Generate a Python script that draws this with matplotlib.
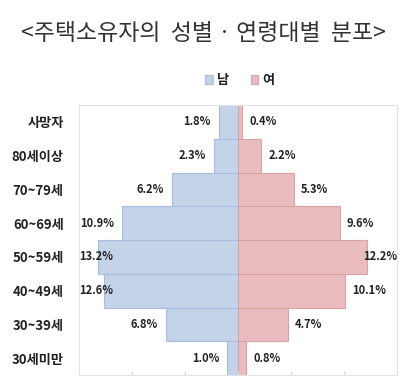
import matplotlib
matplotlib.use("Agg")
import matplotlib.pyplot as plt
import numpy as np

plt.rcParams['font.family'] = ['Noto Sans CJK KR', 'DejaVu Sans']

categories = ["사망자", "80세이상", "70~79세", "60~69세", "50~59세", "40~49세", "30~39세", "30세미만"]
male = [1.8, 2.3, 6.2, 10.9, 13.2, 12.6, 6.8, 1.0]
female = [0.4, 2.2, 5.3, 9.6, 12.2, 10.1, 4.7, 0.8]
title = "<주택소유자의  성별 · 연령대별  분포>"
legend_labels = ["남", "여"]

fig = plt.figure(figsize=(4.10, 3.89), dpi=100)
ax = fig.add_axes([79/410, 1-375/389, (397-79)/410, (375-105)/389])

y = np.arange(len(categories))
mc, me = "#c5d3e9", "#a7bcdf"
fc, fe = "#e9bdbf", "#dba2a5"
ax.barh(y, [-v for v in male], height=1.0, color=mc, edgecolor=me, linewidth=0.8, label=legend_labels[0])
ax.barh(y, female, height=1.0, color=fc, edgecolor=fe, linewidth=0.8, label=legend_labels[1])

ax.set_xlim(-15, 15)
ax.set_ylim(len(categories)-0.5, -0.5)
ax.set_xticks([-15, -10, -5, 0, 5, 10, 15])
ax.set_xticklabels([])
ax.set_yticks(y)
ax.set_yticklabels(categories, fontsize=9.5, fontweight='bold', color='#222222')
ax.tick_params(axis='y', length=0, pad=11)
ax.tick_params(axis='x', direction='in', length=3, color='#d9d9d9')
for s in ax.spines.values():
    s.set_color('#e3e3e3')
    s.set_linewidth(0.8)

for i, v in enumerate(male):
    ax.text(-min(v + 0.75, 11.8), i, f"{v:.1f}%", ha='right', va='center',
            fontsize=8, fontweight='bold', color='#222222')
for i, v in enumerate(female):
    ax.text(min(v + 0.65, 11.8), i, f"{v:.1f}%", ha='left', va='center',
            fontsize=8, fontweight='bold', color='#222222')

fig.text(203/410, 1-33/389, title, ha='center', va='center', fontsize=16.5, color='#333333')

leg = fig.legend(loc='center', bbox_to_anchor=(240/410, 1-80/389), ncol=2, frameon=False,
                 handlelength=0.6, handleheight=0.6, handletextpad=0.3, columnspacing=1.6,
                 prop={'weight': 'bold', 'size': 9.5})
for t in leg.get_texts():
    t.set_color('#222222')

fig.savefig("out.png", dpi=100)
